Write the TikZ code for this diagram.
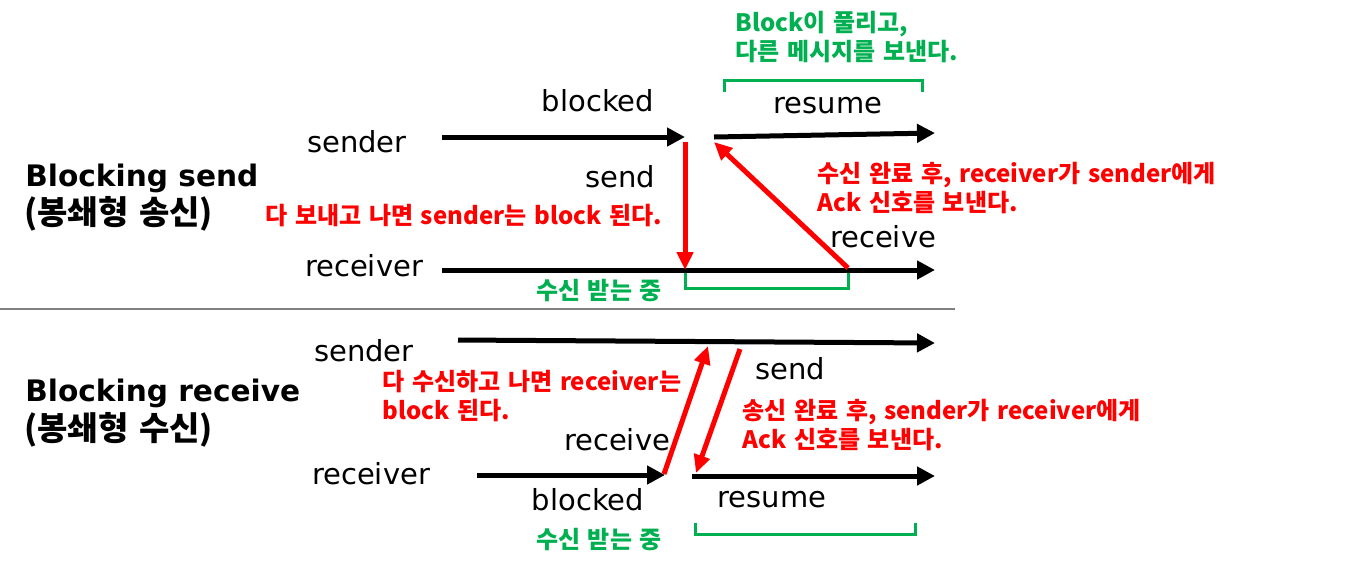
\documentclass[tikz,border=0pt]{standalone}
\usepackage{fontspec}
\setmainfont{DejaVu Sans}
\newfontfamily\kr{Noto Sans CJK KR}[WordSpace=1.4]
\usetikzlibrary{arrows.meta}
\definecolor{kgreen}{RGB}{0,176,80}

\begin{document}
\begin{tikzpicture}[x=0.5pt,y=-0.5pt,
  timeline/.style={line width=2.5pt, -{Triangle[length=9pt,width=9pt]}},
  msg/.style={line width=2.5pt, red, -{Triangle[length=9pt,width=8pt]}},
  brace/.style={line width=1.5pt, kgreen},
  lbl/.style={font=\fontsize{14.5}{17}\selectfont, inner sep=0pt},
  title/.style={font=\bfseries\fontsize{14.8}{17}\selectfont, anchor=west, inner sep=0pt},
  ktitle/.style={font=\kr\bfseries\fontsize{16.5}{19}\selectfont, anchor=west, inner sep=0pt},
  note/.style={font=\kr\bfseries\fontsize{12}{14.5}\selectfont, align=left, anchor=west, inner sep=0pt}]
\useasboundingbox (0,0) rectangle (1370,569);

% Blocking send
\node[title] (tsend) at (25,178) {Blocking send};
\node[ktitle] (tsendk) at (24,214) {(봉쇄형 송신)};
\node[lbl] (snd1) at (357,142) {sender};
\node[lbl] (rcv1) at (364,266) {receiver};
\coordinate (s1a) at (442,137);
\coordinate (s1b) at (685,137);
\coordinate (s1c) at (714,137);
\coordinate (s1d) at (935,133);
\coordinate (r1a) at (442,270);
\coordinate (r1b) at (935,270);
\draw[timeline] (s1a) -- (s1b);
\draw[timeline] (s1c) -- (s1d);
\draw[timeline] (r1a) -- (r1b);
\node[lbl] (blk1) at (598,101) {blocked};
\node[lbl] (res1) at (828,106) {resume};
\node[lbl] (op1) at (620,177) {send};
\node[lbl] (op2) at (883,237) {receive};

% messages
\coordinate (m1a) at (685,142);
\coordinate (m1b) at (685,270);
\coordinate (ack1a) at (848,268);
\coordinate (ack1b) at (714,142);
\draw[msg] (m1a) -- (m1b);
\draw[msg] (ack1a) -- (ack1b);

% brackets and notes
\draw[brace] (724,92) -- (724,80) -- (922,80) -- (922,92);
\draw[brace] (685,273) -- (685,288) -- (848,288) -- (848,273);
\node[note, kgreen] (n1) at (735,37) {Block이 풀리고,\\다른 메시지를 보낸다.};
\node[note, red] (n2) at (265,216) {다 보내고 나면 sender는 block 된다.};
\node[note, red] (n3) at (817,188) {수신 완료 후, receiver가 sender에게\\Ack 신호를 보낸다.};
\node[note, kgreen, anchor=center] (n4) at (599,291) {수신 받는 중};

\draw[gray, line width=1pt] (0,309) -- (955,309);

% Blocking receive
\node[title] (trecv) at (25,393) {Blocking receive};
\node[ktitle] (trecvk) at (24,430) {(봉쇄형 수신)};
\node[lbl] (snd2) at (364,351) {sender};
\node[lbl] (rcv2) at (371,474) {receiver};
\coordinate (s2a) at (458,340);
\coordinate (s2b) at (935,343);
\coordinate (r2a) at (477,475);
\coordinate (r2b) at (665,475);
\coordinate (r2c) at (692,476);
\coordinate (r2d) at (935,476);
\draw[timeline] (s2a) -- (s2b);
\draw[timeline] (r2a) -- (r2b);
\draw[timeline] (r2c) -- (r2d);
\node[lbl] (op3) at (790,369) {send};
\node[lbl] (op4) at (617,440) {receive};
\node[lbl] (blk2) at (588,500) {blocked};
\node[lbl] (res2) at (772,500) {resume};

% messages
\coordinate (m2a) at (664,474);
\coordinate (m2b) at (708,346);
\coordinate (ack2a) at (740,349);
\coordinate (ack2b) at (696,473);
\draw[msg] (m2a) -- (m2b);
\draw[msg] (ack2a) -- (ack2b);

% brackets and notes
\draw[brace] (695,523) -- (695,534) -- (915,534) -- (915,523);
\node[note, red] (n5) at (382,396) {다 수신하고 나면 receiver는\\block 된다.};
\node[note, red] (n6) at (742,425) {송신 완료 후, sender가 receiver에게\\Ack 신호를 보낸다.};
\node[note, kgreen, anchor=center] (n7) at (599,540) {수신 받는 중};
\end{tikzpicture}
\end{document}
